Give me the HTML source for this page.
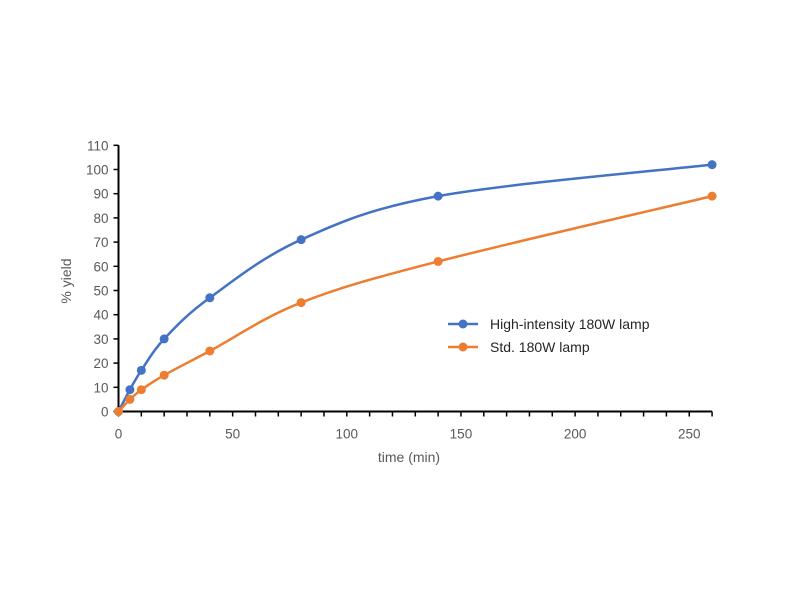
<!DOCTYPE html>
<html><head><meta charset="utf-8"><style>
body{margin:0;background:#fff;}
svg{display:block;font-family:"Liberation Sans",sans-serif;}
</style></head><body>
<svg id="chart" width="800" height="600" xmlns="http://www.w3.org/2000/svg"></svg>
<script>
const xTicks=[0,50,100,150,200,250];
const yTicks=[0,10,20,30,40,50,60,70,80,90,100,110];
const timeMin=[0,5,10,20,40,80,140,260];
const highIntensity=[0,9,17,30,47,71,89,102];
const standard=[0,5,9,15,25,45,62,89];
const seriesNames=["High-intensity 180W lamp","Std. 180W lamp"];

const NS="http://www.w3.org/2000/svg";
const svg=document.getElementById('chart');
const X0=118.5,XS=2.283,Y0=411.5,YS=2.42;
const xs=v=>X0+v*XS, ys=v=>Y0-v*YS;
function mk(t,a,p){const e=document.createElementNS(NS,t);for(const k in a)e.setAttribute(k,a[k]);(p||svg).appendChild(e);return e;}

const ax=mk('g',{});


mk('line',{x1:X0,y1:ys(110),x2:X0,y2:Y0,stroke:'#000','stroke-width':2},ax);
mk('line',{x1:X0,y1:Y0,x2:xs(260),y2:Y0,stroke:'#000','stroke-width':2},ax);
yTicks.forEach(v=>{
  mk('line',{x1:X0-5,y1:ys(v),x2:X0,y2:ys(v),stroke:'#000','stroke-width':1.5},ax);
  const t=mk('text',{x:X0-10,y:ys(v)+5,'text-anchor':'end','font-size':13.5,fill:'#595959'},ax);
  t.textContent=v;
  
  
});
for(let v=0;v<=260;v+=10){
  mk('line',{x1:xs(v),y1:Y0,x2:xs(v),y2:Y0+5,stroke:'#000','stroke-width':1.5},ax);
}
xTicks.forEach(v=>{
  const t=mk('text',{x:xs(v),y:Y0+27,'text-anchor':'middle','font-size':13.5,fill:'#595959'},ax);
  t.textContent=v;
  
  
});
const xt=mk('text',{x:409,y:462,'text-anchor':'middle','font-size':14,fill:'#595959'});
xt.textContent='time (min)';


const yt=mk('text',{x:0,y:0,'text-anchor':'middle','font-size':14,fill:'#595959',transform:'translate(71,281) rotate(-90)'});
yt.textContent='% yield';



function smooth(pts){
  let d='M'+pts[0][0]+','+pts[0][1];
  for(let i=0;i<pts.length-1;i++){
    const p0=pts[i-1]||pts[i],p1=pts[i],p2=pts[i+1],p3=pts[i+2]||p2;
    const t=0.5/3;
    const c1=[p1[0]+(p2[0]-p0[0])*t,p1[1]+(p2[1]-p0[1])*t];
    const c2=[p2[0]-(p3[0]-p1[0])*t,p2[1]-(p3[1]-p1[1])*t];
    d+=' C'+c1+' '+c2+' '+p2;
  }
  return d;
}
const colors=['#4472C4','#ED7D31'];
[highIntensity,standard].forEach((vals,si)=>{
  const g=mk('g',{});
  
  
  const pts=timeMin.map((x,i)=>[xs(x),ys(vals[i])]);
  mk('path',{d:smooth(pts),fill:'none',stroke:colors[si],'stroke-width':2.5},g);
  pts.forEach(p=>{
    const c=mk('circle',{cx:p[0],cy:p[1],r:4.5,fill:colors[si]},g);
    
    
  });
  const lg=mk('g',{});
  
  
  const ly=324+si*23;
  mk('line',{x1:448,y1:ly,x2:478,y2:ly,stroke:colors[si],'stroke-width':2.5},lg);
  mk('circle',{cx:463,cy:ly,r:4.5,fill:colors[si]},lg);
  const lt=mk('text',{x:490,y:ly+5,'font-size':14,fill:'#262626'},lg);
  lt.textContent=seriesNames[si];
});
</script>
</body></html>
